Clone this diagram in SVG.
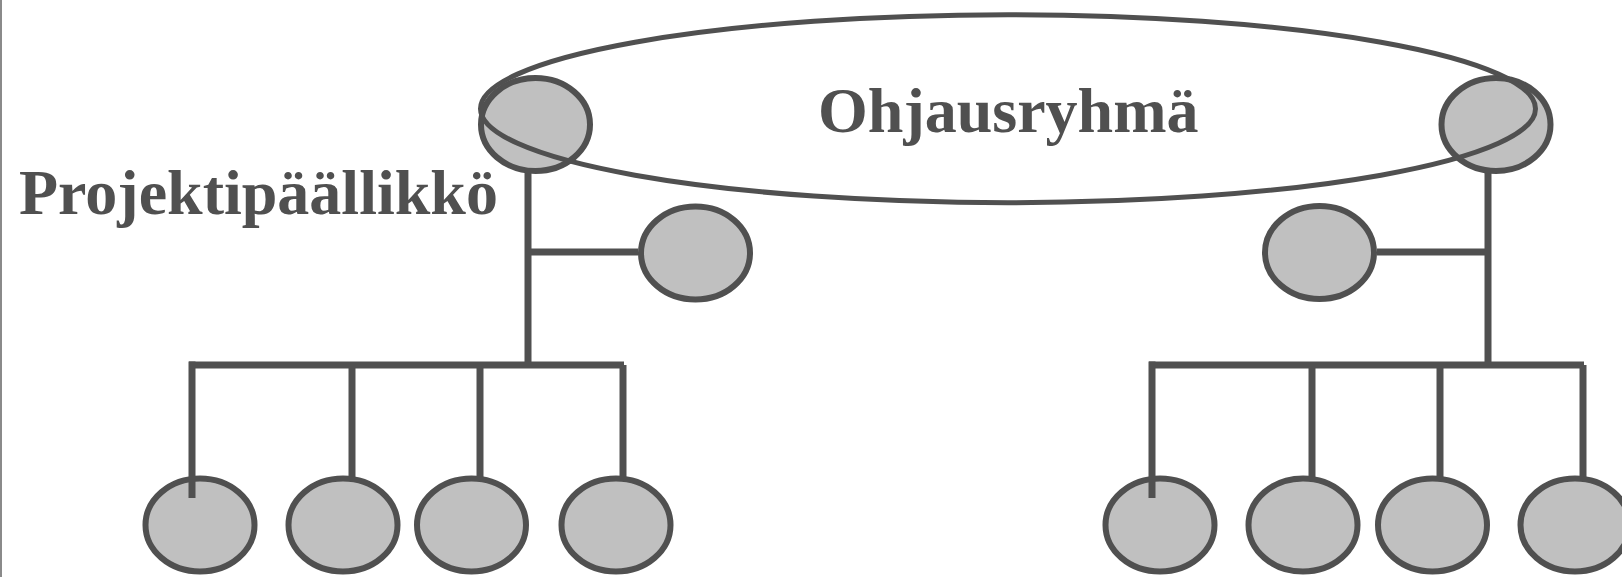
<svg xmlns="http://www.w3.org/2000/svg" width="1622" height="577" viewBox="0 0 1622 577">
<style>
.n{fill:#c0c0c0;stroke:#505050;stroke-width:6}
.c{stroke:#505050;stroke-width:7;fill:none;stroke-linecap:butt}
.t{font-family:"Liberation Serif","Times New Roman",serif;font-weight:bold;font-size:64px;fill:#505050}
</style>
<rect x="0" y="0" width="2" height="577" fill="#8a8a8a"/>
<rect x="2" y="0" width="1620" height="577" fill="#ffffff"/>
<g id="connectors">
<line class="c" x1="528" y1="170" x2="528" y2="366"/>
<line class="c" x1="528" y1="252" x2="638" y2="252"/>
<line class="c" x1="1488" y1="170" x2="1488" y2="366"/>
<line class="c" x1="1377" y1="252" x2="1488" y2="252"/>
<line class="c" x1="189" y1="365" x2="624" y2="365"/>
<line class="c" x1="352" y1="365" x2="352" y2="478"/>
<line class="c" x1="480" y1="365" x2="480" y2="478"/>
<line class="c" x1="623" y1="365" x2="623" y2="478"/>
<line class="c" x1="1149" y1="365" x2="1584" y2="365"/>
<line class="c" x1="1312" y1="365" x2="1312" y2="478"/>
<line class="c" x1="1440" y1="365" x2="1440" y2="478"/>
<line class="c" x1="1583" y1="365" x2="1583" y2="478"/>
</g>
<g id="b1"><ellipse class="n" cx="200" cy="525" rx="54.5" ry="46.5"/></g>
<g id="b2"><ellipse class="n" cx="343" cy="525" rx="54.5" ry="46.5"/></g>
<g id="b3"><ellipse class="n" cx="471.5" cy="525" rx="54.5" ry="46.5"/></g>
<g id="b4"><ellipse class="n" cx="616" cy="525" rx="54.5" ry="46.5"/></g>
<g id="b5"><ellipse class="n" cx="1160" cy="525" rx="54.5" ry="46.5"/></g>
<g id="b6"><ellipse class="n" cx="1303" cy="525" rx="54.5" ry="46.5"/></g>
<g id="b7"><ellipse class="n" cx="1432.5" cy="525" rx="54.5" ry="46.5"/></g>
<g id="b8"><ellipse class="n" cx="1575" cy="525" rx="54.5" ry="46.5"/></g>
<g id="drops">
<line class="c" x1="192" y1="361.5" x2="192" y2="498"/>
<line class="c" x1="1152" y1="361.5" x2="1152" y2="498"/>
</g>
<g id="m1"><ellipse class="n" cx="695.5" cy="253" rx="54.5" ry="46.5"/></g>
<g id="m2"><ellipse class="n" cx="1319.5" cy="252.5" rx="54.5" ry="46.5"/></g>
<g id="pm"><ellipse class="n" cx="535.5" cy="124.5" rx="54.5" ry="46.5"/></g>
<g id="pr"><ellipse class="n" cx="1496" cy="124.5" rx="54.5" ry="46.5"/></g>
<g id="ohjausryhma">
<ellipse cx="1008" cy="108.7" rx="527.5" ry="94" fill="none" stroke="#505050" stroke-width="5"/>
<text class="t" x="818" y="132">Ohjausryhmä</text>
</g>
<g id="projektipaallikko">
<text class="t" x="19" y="214">Projektipäällikkö</text>
</g>
</svg>
